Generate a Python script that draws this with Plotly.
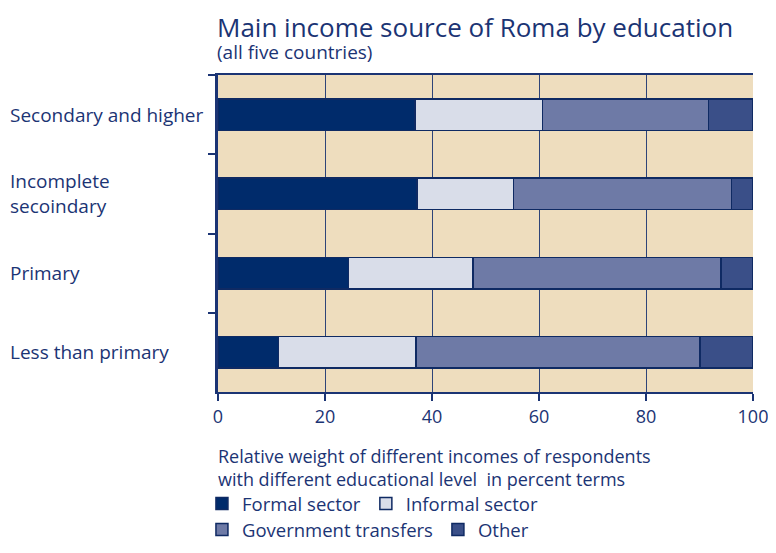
import plotly.graph_objects as go

# Education levels, top to bottom as in the chart
categories = ["Secondary and higher", "Incomplete secoindary", "Primary", "Less than primary"]
cat_labels = ["Secondary and higher", "Incomplete<br>secoindary", "Primary", "Less than primary"]

# Share of main income source, percent
formal = [36.8, 37.2, 24.4, 11.3]
informal = [23.9, 18.0, 23.3, 25.7]
government = [31.0, 40.8, 46.3, 53.1]
other = [8.3, 4.0, 6.0, 9.9]

x_ticks = [0, 20, 40, 60, 80, 100]

NAVY = "#1B3474"
FONT = "Open Sans"

series = [
    ("Formal sector", formal, "#002B6B", "legend"),
    ("Informal sector", informal, "#D9DDE9", "legend"),
    ("Government transfers", government, "#6E7AA6", "legend2"),
    ("Other", other, "#3A4F88", "legend2"),
]

fig = go.Figure()
for name, vals, color, leg in series:
    fig.add_trace(go.Bar(
        x=vals,
        y=categories,
        orientation="h",
        name=name,
        width=0.4,
        legend=leg,
        marker=dict(color=color, line=dict(color="#0F2A63", width=1.5)),
    ))

# page body has an 8px margin, so the figure is sized 8px smaller
fig.update_layout(
    barmode="stack",
    width=768,
    height=545,
    margin=dict(l=210, r=23, t=67, b=161, autoexpand=False),
    plot_bgcolor="#EEDDBE",
    paper_bgcolor="white",
    font=dict(family=FONT, color=NAVY, size=16),
    legend=dict(
        orientation="h", x=-0.03, xanchor="left", y=-0.2935, yanchor="top",
        font=dict(size=18.5, color=NAVY), itemwidth=30, traceorder="normal",
    ),
    legend2=dict(
        orientation="h", x=-0.03, xanchor="left", y=-0.3755, yanchor="top",
        font=dict(size=18.5, color=NAVY), itemwidth=30, traceorder="normal",
    ),
)

fig.update_xaxes(
    range=[0, 100],
    tickvals=x_ticks,
    showgrid=True,
    gridcolor="#2E4478",
    gridwidth=1,
    zeroline=False,
    showline=True,
    linecolor=NAVY,
    linewidth=2,
    mirror=True,
    ticks="outside",
    ticklen=7,
    tickcolor=NAVY,
    tickwidth=1.5,
    tickfont=dict(size=18, color=NAVY),
    fixedrange=True,
)

fig.update_yaxes(
    autorange="reversed",
    showticklabels=False,
    showgrid=False,
    showline=True,
    linecolor=NAVY,
    linewidth=2.5,
    ticks="outside",
    tickson="boundaries",
    ticklen=7,
    tickcolor=NAVY,
    tickwidth=1.5,
)

annotations = [
    dict(text="Main income source of Roma by education", xref="paper", yref="paper",
         x=-0.003, y=1.2114, xanchor="left", yanchor="top", showarrow=False, borderpad=0,
         font=dict(size=26, color=NAVY, family=FONT)),
    dict(text="(all five countries)", xref="paper", yref="paper",
         x=-0.003, y=1.117, xanchor="left", yanchor="top", showarrow=False, borderpad=0,
         font=dict(size=19, color=NAVY, family=FONT)),
    dict(text="Relative weight of different incomes of respondents<br>with different educational level  in percent terms",
         xref="paper", yref="paper", x=-0.003, y=-0.157, xanchor="left", yanchor="top",
         align="left", showarrow=False, font=dict(size=18, color=NAVY, family=FONT)),
]
for cat, label in zip(categories, cat_labels):
    annotations.append(dict(
        text=label, xref="paper", yref="y", x=-0.393, y=cat,
        xanchor="left", yanchor="middle", align="left", showarrow=False,
        font=dict(size=19, color=NAVY, family=FONT),
    ))
fig.update_layout(annotations=annotations)

fig.write_html("out.html")
